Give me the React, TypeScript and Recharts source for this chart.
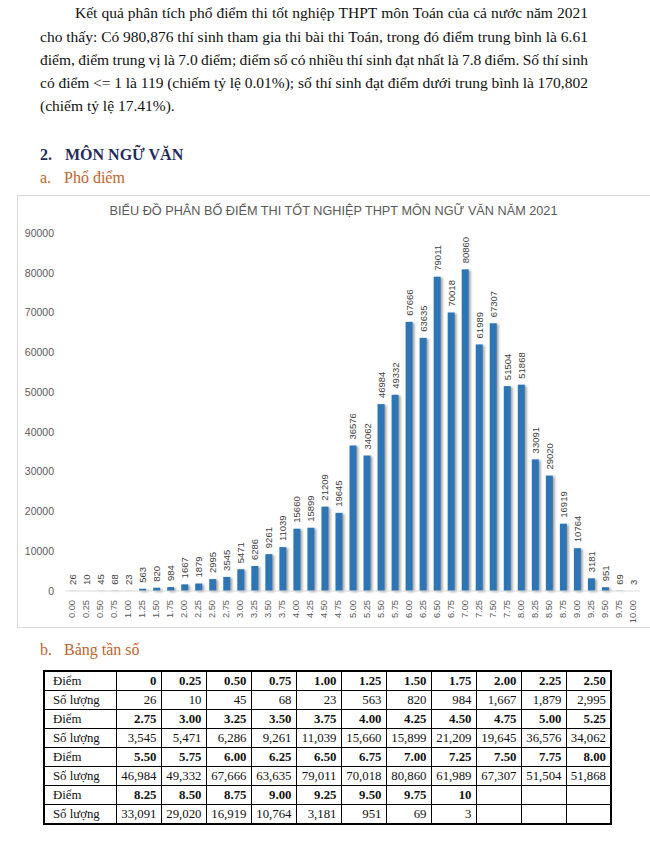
import React from 'react';
import { BarChart, Bar, XAxis, YAxis, LabelList } from 'recharts';

const chartTitle = 'BIỂU ĐỒ PHÂN BỐ ĐIỂM THI TỐT NGHIỆP THPT MÔN NGỮ VĂN NĂM 2021';

const chartLabels = [
  '0.00', '0.25', '0.50', '0.75', '1.00', '1.25', '1.50', '1.75', '2.00', '2.25', '2.50',
  '2.75', '3.00', '3.25', '3.50', '3.75', '4.00', '4.25', '4.50', '4.75', '5.00', '5.25',
  '5.50', '5.75', '6.00', '6.25', '6.50', '6.75', '7.00', '7.25', '7.50', '7.75', '8.00',
  '8.25', '8.50', '8.75', '9.00', '9.25', '9.50', '9.75', '10.00',
];

const tableLabels = [
  '0', '0.25', '0.50', '0.75', '1.00', '1.25', '1.50', '1.75', '2.00', '2.25', '2.50',
  '2.75', '3.00', '3.25', '3.50', '3.75', '4.00', '4.25', '4.50', '4.75', '5.00', '5.25',
  '5.50', '5.75', '6.00', '6.25', '6.50', '6.75', '7.00', '7.25', '7.50', '7.75', '8.00',
  '8.25', '8.50', '8.75', '9.00', '9.25', '9.50', '9.75', '10',
];

const counts = [
  26, 10, 45, 68, 23, 563, 820, 984, 1667, 1879, 2995,
  3545, 5471, 6286, 9261, 11039, 15660, 15899, 21209, 19645, 36576, 34062,
  46984, 49332, 67666, 63635, 79011, 70018, 80860, 61989, 67307, 51504, 51868,
  33091, 29020, 16919, 10764, 3181, 951, 69, 3,
];

const yTicks = [0, 10000, 20000, 30000, 40000, 50000, 60000, 70000, 80000, 90000];

const paragraphLines = [
  'Kết quả phân tích phổ điểm thi tốt nghiệp THPT môn Toán của cả nước năm 2021',
  'cho thấy: Có 980,876 thí sinh tham gia thi bài thi Toán, trong đó điểm trung bình là 6.61',
  'điểm, điểm trung vị là 7.0 điểm; điểm số có nhiều thí sinh đạt nhất là 7.8 điểm. Số thí sinh',
  'có điểm <= 1 là 119 (chiếm tỷ lệ 0.01%); số thí sinh đạt điểm dưới trung bình là 170,802',
  '(chiếm tỷ lệ 17.41%).',
];

const rowHeaderScore = 'Điểm';
const rowHeaderCount = 'Số lượng';

const data = chartLabels.map((label, i) => ({ label, value: counts[i] }));

const SANS = '"Liberation Sans", Arial, sans-serif';
const SERIF = '"Liberation Serif", "Times New Roman", serif';

const XTick = (props: any) => {
  const { x, y, payload } = props;
  const ty = y + 9;
  return (
    <text
      x={x}
      y={ty}
      transform={`rotate(-90, ${x}, ${ty})`}
      textAnchor="end"
      dominantBaseline="central"
      fontSize={9.3}
      fill="#595959"
      fontFamily={SANS}
    >
      {payload.value}
    </text>
  );
};

const ShadowBar = (props: any) => {
  const { x, y, width, height, fill } = props;
  if (height == null || height <= 0) return null;
  return (
    <rect
      x={x}
      y={y}
      width={width}
      height={height}
      fill={fill}
      style={{ filter: 'drop-shadow(2px 1px 1.2px rgba(0,0,0,0.35))' }}
    />
  );
};

const BarLabel = (props: any) => {
  const { x, y, width, value } = props;
  const cx = x + width / 2;
  const ty = y - 6;
  return (
    <text
      x={cx}
      y={ty}
      transform={`rotate(-90, ${cx}, ${ty})`}
      textAnchor="start"
      dominantBaseline="central"
      fontSize={9.5}
      fill="#404040"
      fontFamily={SANS}
    >
      {value}
    </text>
  );
};

const fmt = (n: number) => n.toLocaleString('en-US');

const lineTops = [3, 26.5, 50, 73, 96];

export default function App() {
  const groups: number[][] = [];
  for (let i = 0; i < counts.length; i += 11) {
    const g: number[] = [];
    for (let j = i; j < Math.min(i + 11, counts.length); j++) g.push(j);
    groups.push(g);
  }

  const cellBase: React.CSSProperties = {
    border: '1px solid #000',
    padding: '0 4px',
    textAlign: 'right',
    height: 18,
    lineHeight: '17px',
    whiteSpace: 'nowrap',
  };
  const firstCell: React.CSSProperties = {
    ...cellBase,
    textAlign: 'left',
    paddingLeft: 8,
    fontWeight: 'normal',
  };

  return (
    <div
      style={{
        position: 'absolute',
        left: 0,
        top: 0,
        width: 650,
        height: 843,
        overflow: 'hidden',
        background: '#fff',
        fontFamily: SERIF,
        color: '#111',
      }}
    >
      {paragraphLines.map((line, i) => {
        const justify = i < paragraphLines.length - 1;
        const words = line.split(' ');
        return (
          <div
            key={i}
            style={{
              position: 'absolute',
              left: i === 0 ? 75 : 40,
              width: i === 0 ? 513 : 548,
              top: lineTops[i],
              fontSize: 15.5,
              lineHeight: '20px',
              whiteSpace: 'nowrap',
              display: 'flex',
              justifyContent: justify ? 'space-between' : 'flex-start',
              gap: justify ? 0 : '0.25em',
            }}
          >
            {words.map((w, k) => (
              <span key={k}>{w}</span>
            ))}
          </div>
        );
      })}

      <div style={{ position: 'absolute', left: 40, top: 145, fontSize: 16, lineHeight: '20px', fontWeight: 'bold', color: '#1f2d5a' }}>2.</div>
      <div style={{ position: 'absolute', left: 65, top: 145, fontSize: 16, lineHeight: '20px', fontWeight: 'bold', color: '#1f2d5a' }}>MÔN NGỮ VĂN</div>

      <div style={{ position: 'absolute', left: 40, top: 168, fontSize: 16, lineHeight: '20px', color: '#c0642d' }}>a.</div>
      <div style={{ position: 'absolute', left: 64, top: 168, fontSize: 16, lineHeight: '20px', color: '#c0642d' }}>Phổ điểm</div>

      <div
        style={{
          position: 'absolute',
          left: 17,
          top: 195,
          width: 640,
          height: 433,
          boxSizing: 'border-box',
          borderLeft: '1px solid #d9d9d9',
          borderTop: '1px solid #d9d9d9',
          borderBottom: '1px solid #d9d9d9',
        }}
      />
      <div
        style={{
          position: 'absolute',
          left: 17,
          top: 203,
          width: 633,
          textAlign: 'center',
          fontFamily: SANS,
          fontSize: 12.7,
          lineHeight: '16px',
          color: '#595959',
        }}
      >
        {chartTitle}
      </div>
      <div style={{ position: 'absolute', left: 17, top: 195 }}>
        <BarChart
          width={633}
          height={433}
          data={data}
          margin={{ top: 38, right: 10, left: 0, bottom: 0 }}
          barCategoryGap={0}
        >
          <XAxis
            dataKey="label"
            interval={0}
            height={37}
            tickSize={0}
            tickMargin={0}
            tickLine={false}
            axisLine={{ stroke: '#d9d9d9' }}
            tick={<XTick />}
          />
          <YAxis
            width={48}
            domain={[0, 90000]}
            ticks={yTicks}
            interval={0}
            axisLine={false}
            tickLine={false}
            tickSize={6}
            tickMargin={5}
            tick={{ fontSize: 10.5, fill: '#595959', fontFamily: SANS }}
          />
          <Bar
            dataKey="value"
            fill="#2e75b6"
            barSize={7}
            isAnimationActive={false}
            shape={<ShadowBar />}
          >
            <LabelList dataKey="value" content={<BarLabel />} />
          </Bar>
        </BarChart>
      </div>

      <div style={{ position: 'absolute', left: 40, top: 640, fontSize: 16, lineHeight: '20px', color: '#c0642d' }}>b.</div>
      <div style={{ position: 'absolute', left: 64, top: 640, fontSize: 16, lineHeight: '20px', color: '#c0642d' }}>Bảng tần số</div>

      <table
        style={{
          position: 'absolute',
          left: 43,
          top: 670,
          width: 569,
          borderCollapse: 'collapse',
          tableLayout: 'fixed',
          border: '2px solid #000',
          fontSize: 12.8,
          fontFamily: SERIF,
          color: '#111',
        }}
      >
        <colgroup>
          <col style={{ width: 72 }} />
          {Array.from({ length: 11 }).map((_, k) => (
            <col key={k} />
          ))}
        </colgroup>
        <tbody>
          {groups.map((g, gi) => (
            <React.Fragment key={gi}>
              <tr>
                <td style={firstCell}>{rowHeaderScore}</td>
                {Array.from({ length: 11 }).map((_, k) => (
                  <td key={k} style={{ ...cellBase, fontWeight: 'bold' }}>
                    {g[k] !== undefined ? tableLabels[g[k]] : ''}
                  </td>
                ))}
              </tr>
              <tr>
                <td style={firstCell}>{rowHeaderCount}</td>
                {Array.from({ length: 11 }).map((_, k) => (
                  <td key={k} style={cellBase}>
                    {g[k] !== undefined ? fmt(counts[g[k]]) : ''}
                  </td>
                ))}
              </tr>
            </React.Fragment>
          ))}
        </tbody>
      </table>
    </div>
  );
}
